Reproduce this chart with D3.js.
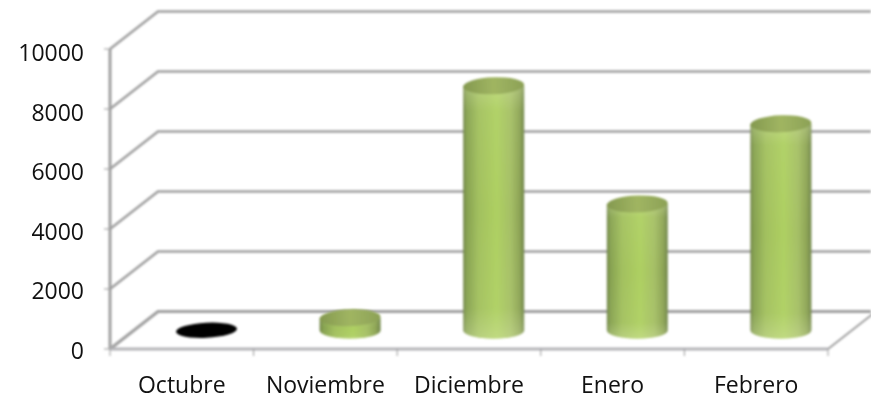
<!DOCTYPE html>
<html><head><meta charset="utf-8">
<script src="https://cdn.jsdelivr.net/npm/d3@7"></script>
<style>html,body{margin:0;background:#fff}svg{display:block}text{font-family:"Open Sans",sans-serif;fill:#111}</style>
</head><body><div id="c"></div>
<script>
const categories=["Octubre","Noviembre","Diciembre","Enero","Febrero"];
const values=[0,420,8150,4210,6880];
const yTicks=[0,2000,4000,6000,8000,10000];
const W=871,H=401;
const front={x0:110,x1:828,y0:349,y1:49};
const depth={dx:48,dy:-37.5};
const x=d3.scaleBand().domain(categories).range([front.x0,front.x1]);
const y=d3.scaleLinear().domain([0,10000]).range([front.y0,front.y1]);
const labelY=d3.scaleLinear().domain([0,10000]).range([358.5,61]);
const svg=d3.select("#c").append("svg").attr("width",W).attr("height",H);
const defs=svg.append("defs");
defs.append("filter").attr("id","soft").attr("x","-10%").attr("y","-10%").attr("width","120%").attr("height","120%")
  .append("feGaussianBlur").attr("stdDeviation",0.8);
defs.append("filter").attr("id","soft2").attr("x","-10%").attr("y","-10%").attr("width","120%").attr("height","120%")
  .append("feGaussianBlur").attr("stdDeviation",1.1);
const side=defs.append("linearGradient").attr("id","side");
[[0,"#6d8048"],[.05,"#85a050"],[.25,"#a2c05f"],[.55,"#aed062"],[.78,"#a5bf66"],[.92,"#8ea556"],[1,"#70854b"]]
  .forEach(s=>side.append("stop").attr("offset",s[0]).attr("stop-color",s[1]));
const sheen=defs.append("linearGradient").attr("id","sheen").attr("x1",0).attr("x2",0).attr("y1",0).attr("y2",1);
[[0,.3],[.1,.06],[.5,0],[.88,.05],[1,.32]].forEach(s=>sheen.append("stop").attr("offset",s[0]).attr("stop-color","#e8f2c4").attr("stop-opacity",s[1]));
const cap=defs.append("linearGradient").attr("id","cap");
[[0,"#84994f"],[.5,"#a0b562"],[1,"#8ca156"]].forEach(s=>cap.append("stop").attr("offset",s[0]).attr("stop-color",s[1]));

const g=svg.append("g").attr("filter","url(#soft)");
const grid="#a0a0a0";
yTicks.forEach(t=>{
  g.append("path").attr("fill","none").attr("stroke",grid).attr("stroke-width",t===0?3.2:2.6)
   .attr("d",d3.line()([[front.x0,y(t)],[front.x0+depth.dx,y(t)+depth.dy],[W,y(t)+depth.dy]]));
});
g.append("line").attr("x1",front.x1).attr("y1",y(0)).attr("x2",front.x1+depth.dx).attr("y2",y(0)+depth.dy)
 .attr("stroke",grid).attr("stroke-width",2);
g.append("line").attr("x1",front.x0).attr("x2",front.x0).attr("y1",y(0)).attr("y2",y(10000)).attr("stroke",grid).attr("stroke-width",3);
g.append("line").attr("x1",front.x0).attr("x2",front.x1).attr("y1",y(0)).attr("y2",y(0)).attr("stroke","#b4b4b8").attr("stroke-width",3.2);
yTicks.forEach(t=>g.append("line").attr("x1",front.x0-6).attr("x2",front.x0).attr("y1",y(t)).attr("y2",y(t)).attr("stroke","#999").attr("stroke-width",1));
x.domain().concat([null]).forEach((c,i)=>{
  const px=front.x0+i*x.step();
  g.append("line").attr("x1",px).attr("x2",px).attr("y1",y(0)).attr("y2",y(0)+7).attr("stroke","#999").attr("stroke-width",1);
});
const rx=30.5,ry=8.5,ox=depth.dx/2+0.7,oy=depth.dy/2;
const yb=v=>y(v)+oy;
const bars=svg.append("g").attr("filter","url(#soft2)");
categories.forEach((c,i)=>{
  const v=values[i],cx=x(c)+x.bandwidth()/2+ox,b=yb(0),t=yb(v);
  const bar=bars.append("g");
  if(v===0){
    bar.append("ellipse").attr("cx",cx).attr("cy",b).attr("rx",rx).attr("ry",7.5).attr("fill","#000")
      .attr("transform",`rotate(-3 ${cx} ${b})`);
    return;
  }
  const body=`M${cx-rx},${t}L${cx-rx},${b}A${rx},${ry} 0 0 0 ${cx+rx},${b}L${cx+rx},${t}Z`;
  bar.append("path").attr("fill","url(#side)").attr("d",body);
  bar.append("path").attr("fill","url(#sheen)").attr("d",body);
  bar.append("ellipse").attr("cx",cx).attr("cy",t).attr("rx",rx).attr("ry",ry).attr("fill","url(#cap)")
    .attr("transform",`rotate(-2 ${cx} ${t})`);
});
svg.append("g").selectAll("text").data(yTicks).join("text")
  .attr("x",84).attr("y",d=>labelY(d)).attr("text-anchor","end").attr("font-size",23).text(d=>d);
svg.append("g").selectAll("text").data(categories).join("text")
  .attr("x",d=>x(d)+x.bandwidth()/2).attr("y",393).attr("text-anchor","middle").attr("font-size",23).text(d=>d);
</script></body></html>
